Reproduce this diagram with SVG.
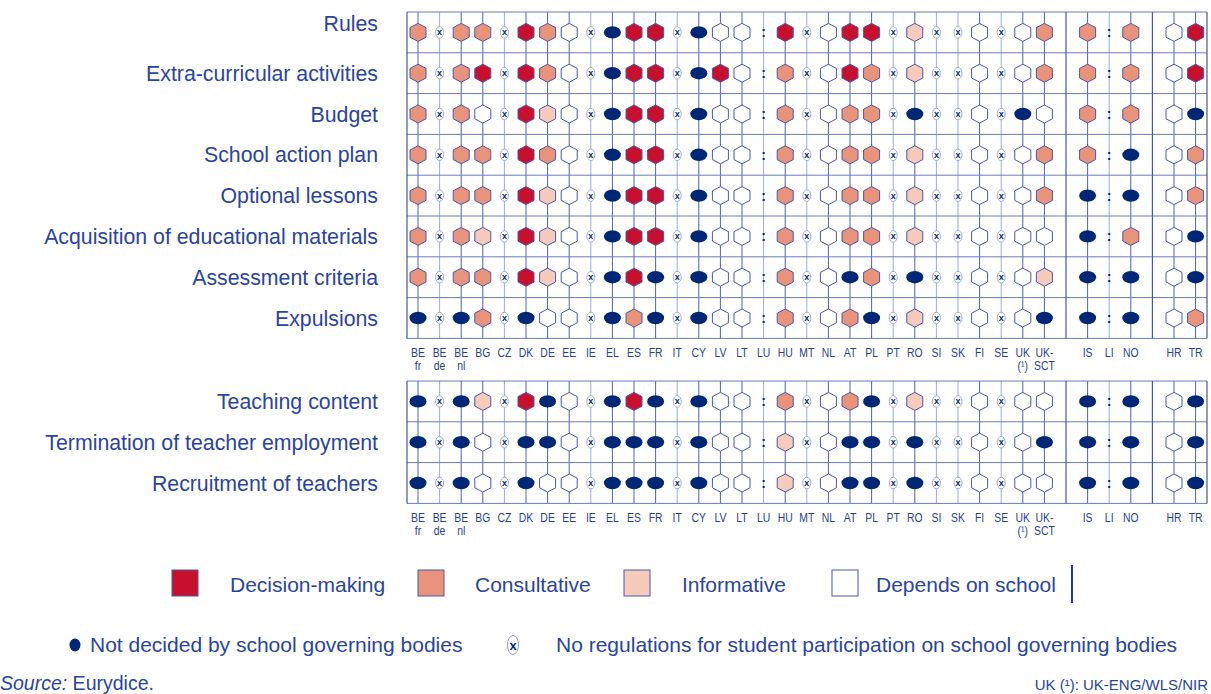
<svg xmlns="http://www.w3.org/2000/svg" xmlns:xlink="http://www.w3.org/1999/xlink" width="1211" height="694" viewBox="0 0 1211 694">
<style>
.lbl{font-family:"Liberation Sans",Arial,sans-serif;font-size:21.3px;fill:#2a45a0;text-anchor:end}
.leg{font-family:"Liberation Sans",Arial,sans-serif;font-size:21px;fill:#2a45a0}
.code{font-family:"Liberation Sans",Arial,sans-serif;font-size:13px;fill:#2a3f95;text-anchor:middle}
.src{font-family:"Liberation Sans",Arial,sans-serif;font-size:19.5px;fill:#2a45a0}
.note{font-family:"Liberation Sans",Arial,sans-serif;font-size:15px;fill:#2a45a0;text-anchor:end}
.hl{stroke:#6d7abd;stroke-width:1;fill:none}
.bd{stroke:#4a57a8;stroke-width:1.2;fill:none}
.vd{stroke:#5362ae;stroke-width:1;fill:none}
.vl{stroke:#a3abd9;stroke-width:1;fill:none}
.hex{stroke:#4b58a8;stroke-width:1}
</style>
<defs>
<polygon id="hx" points="0,-9 8,-4.8 8,4.8 0,9 -8,4.8 -8,-4.8"/>
<g id="D"><use href="#hx" class="hex" fill="#c8102e"/></g>
<g id="C"><use href="#hx" class="hex" fill="#e9937b"/></g>
<g id="I"><use href="#hx" class="hex" fill="#f6cbbb"/></g>
<g id="W"><use href="#hx" class="hex" fill="#ffffff"/></g>
<g id="N"><ellipse rx="8.5" ry="6.2" fill="#002776"/></g>
<g id="X"><ellipse rx="4" ry="5.8" fill="#ffffff" stroke="#8e98cf" stroke-width="0.8"/><text y="3" font-family="Liberation Sans,Arial,sans-serif" font-size="9" font-weight="bold" fill="#002776" text-anchor="middle">x</text></g>
<g id="L"><text y="5" font-family="Liberation Sans,Arial,sans-serif" font-size="14" font-weight="bold" fill="#002776" text-anchor="middle">:</text></g>
</defs>
<rect width="1211" height="694" fill="#ffffff"/>

<g id="connectors">
<path class="vl" d="M439.6 12V338.4M504.4 12V338.4M590.8 12V338.4M677.2 12V338.4M763.6 12V338.4M806.8 12V338.4M893.2 12V338.4M936.4 12V338.4M958 12V338.4M1001.2 12V338.4M1109.2 12V338.4M439.6 381V503.4M504.4 381V503.4M590.8 381V503.4M677.2 381V503.4M763.6 381V503.4M806.8 381V503.4M893.2 381V503.4M936.4 381V503.4M958 381V503.4M1001.2 381V503.4M1109.2 381V503.4"/>
<path class="vd" d="M418 12V338.4M461.2 12V338.4M482.8 12V338.4M526 12V338.4M547.6 12V338.4M569.2 12V338.4M612.4 12V338.4M634 12V338.4M655.6 12V338.4M698.8 12V338.4M720.4 12V338.4M742 12V338.4M785.2 12V338.4M828.4 12V338.4M850 12V338.4M871.6 12V338.4M914.8 12V338.4M979.6 12V338.4M1022.8 12V338.4M1044.4 12V338.4M1087.6 12V338.4M1130.8 12V338.4M1174 12V338.4M1195.6 12V338.4M418 381V503.4M461.2 381V503.4M482.8 381V503.4M526 381V503.4M547.6 381V503.4M569.2 381V503.4M612.4 381V503.4M634 381V503.4M655.6 381V503.4M698.8 381V503.4M720.4 381V503.4M742 381V503.4M785.2 381V503.4M828.4 381V503.4M850 381V503.4M871.6 381V503.4M914.8 381V503.4M979.6 381V503.4M1022.8 381V503.4M1044.4 381V503.4M1087.6 381V503.4M1130.8 381V503.4M1174 381V503.4M1195.6 381V503.4"/>
<path class="hl" d="M407 12H1207M407 52.8H1207M407 93.6H1207M407 134.4H1207M407 175.2H1207M407 216H1207M407 256.8H1207M407 297.6H1207M407 338.4H1207M407 381H1207M407 421.8H1207M407 462.6H1207M407 503.4H1207"/>
<path class="bd" d="M407 12V338.4M1066 12V338.4M1152.4 12V338.4M1207 12V338.4M407 381V503.4M1066 381V503.4M1152.4 381V503.4M1207 381V503.4"/>
</g>

<g id="row-labels">
<text class="lbl" x="378" y="30.5">Rules</text>
<text class="lbl" x="378" y="80.7">Extra-curricular activities</text>
<text class="lbl" x="378" y="121.5">Budget</text>
<text class="lbl" x="378" y="162.3">School action plan</text>
<text class="lbl" x="378" y="203.1">Optional lessons</text>
<text class="lbl" x="378" y="243.9">Acquisition of educational materials</text>
<text class="lbl" x="378" y="284.7">Assessment criteria</text>
<text class="lbl" x="378" y="325.5">Expulsions</text>
<text class="lbl" x="378" y="408.9">Teaching content</text>
<text class="lbl" x="378" y="449.7">Termination of teacher employment</text>
<text class="lbl" x="378" y="490.5">Recruitment of teachers</text>
</g>

<g id="row-rules" transform="translate(0 32.4)"><use href="#C" x="418"/><use href="#X" x="439.6"/><use href="#C" x="461.2"/><use href="#C" x="482.8"/><use href="#X" x="504.4"/><use href="#D" x="526"/><use href="#C" x="547.6"/><use href="#W" x="569.2"/><use href="#X" x="590.8"/><use href="#N" x="612.4"/><use href="#D" x="634"/><use href="#D" x="655.6"/><use href="#X" x="677.2"/><use href="#N" x="698.8"/><use href="#W" x="720.4"/><use href="#W" x="742"/><use href="#L" x="763.6"/><use href="#D" x="785.2"/><use href="#X" x="806.8"/><use href="#W" x="828.4"/><use href="#D" x="850"/><use href="#D" x="871.6"/><use href="#X" x="893.2"/><use href="#I" x="914.8"/><use href="#X" x="936.4"/><use href="#X" x="958"/><use href="#W" x="979.6"/><use href="#X" x="1001.2"/><use href="#W" x="1022.8"/><use href="#C" x="1044.4"/><use href="#C" x="1087.6"/><use href="#L" x="1109.2"/><use href="#C" x="1130.8"/><use href="#W" x="1174"/><use href="#D" x="1195.6"/></g>

<g id="row-extra" transform="translate(0 73.2)"><use href="#C" x="418"/><use href="#X" x="439.6"/><use href="#C" x="461.2"/><use href="#D" x="482.8"/><use href="#X" x="504.4"/><use href="#D" x="526"/><use href="#C" x="547.6"/><use href="#W" x="569.2"/><use href="#X" x="590.8"/><use href="#N" x="612.4"/><use href="#D" x="634"/><use href="#D" x="655.6"/><use href="#X" x="677.2"/><use href="#N" x="698.8"/><use href="#D" x="720.4"/><use href="#W" x="742"/><use href="#L" x="763.6"/><use href="#C" x="785.2"/><use href="#X" x="806.8"/><use href="#W" x="828.4"/><use href="#D" x="850"/><use href="#C" x="871.6"/><use href="#X" x="893.2"/><use href="#I" x="914.8"/><use href="#X" x="936.4"/><use href="#X" x="958"/><use href="#W" x="979.6"/><use href="#X" x="1001.2"/><use href="#W" x="1022.8"/><use href="#C" x="1044.4"/><use href="#C" x="1087.6"/><use href="#L" x="1109.2"/><use href="#C" x="1130.8"/><use href="#W" x="1174"/><use href="#D" x="1195.6"/></g>

<g id="row-budget" transform="translate(0 114)"><use href="#C" x="418"/><use href="#X" x="439.6"/><use href="#C" x="461.2"/><use href="#W" x="482.8"/><use href="#X" x="504.4"/><use href="#D" x="526"/><use href="#I" x="547.6"/><use href="#W" x="569.2"/><use href="#X" x="590.8"/><use href="#N" x="612.4"/><use href="#D" x="634"/><use href="#D" x="655.6"/><use href="#X" x="677.2"/><use href="#N" x="698.8"/><use href="#W" x="720.4"/><use href="#W" x="742"/><use href="#L" x="763.6"/><use href="#C" x="785.2"/><use href="#X" x="806.8"/><use href="#W" x="828.4"/><use href="#C" x="850"/><use href="#C" x="871.6"/><use href="#X" x="893.2"/><use href="#N" x="914.8"/><use href="#X" x="936.4"/><use href="#X" x="958"/><use href="#W" x="979.6"/><use href="#X" x="1001.2"/><use href="#N" x="1022.8"/><use href="#W" x="1044.4"/><use href="#C" x="1087.6"/><use href="#L" x="1109.2"/><use href="#C" x="1130.8"/><use href="#W" x="1174"/><use href="#N" x="1195.6"/></g>

<g id="row-action-plan" transform="translate(0 154.8)"><use href="#C" x="418"/><use href="#X" x="439.6"/><use href="#C" x="461.2"/><use href="#C" x="482.8"/><use href="#X" x="504.4"/><use href="#D" x="526"/><use href="#C" x="547.6"/><use href="#W" x="569.2"/><use href="#X" x="590.8"/><use href="#N" x="612.4"/><use href="#D" x="634"/><use href="#D" x="655.6"/><use href="#X" x="677.2"/><use href="#N" x="698.8"/><use href="#W" x="720.4"/><use href="#W" x="742"/><use href="#L" x="763.6"/><use href="#C" x="785.2"/><use href="#X" x="806.8"/><use href="#W" x="828.4"/><use href="#C" x="850"/><use href="#C" x="871.6"/><use href="#X" x="893.2"/><use href="#I" x="914.8"/><use href="#X" x="936.4"/><use href="#X" x="958"/><use href="#W" x="979.6"/><use href="#X" x="1001.2"/><use href="#W" x="1022.8"/><use href="#C" x="1044.4"/><use href="#C" x="1087.6"/><use href="#L" x="1109.2"/><use href="#N" x="1130.8"/><use href="#W" x="1174"/><use href="#C" x="1195.6"/></g>

<g id="row-optional" transform="translate(0 195.6)"><use href="#C" x="418"/><use href="#X" x="439.6"/><use href="#C" x="461.2"/><use href="#C" x="482.8"/><use href="#X" x="504.4"/><use href="#D" x="526"/><use href="#I" x="547.6"/><use href="#W" x="569.2"/><use href="#X" x="590.8"/><use href="#N" x="612.4"/><use href="#D" x="634"/><use href="#D" x="655.6"/><use href="#X" x="677.2"/><use href="#N" x="698.8"/><use href="#W" x="720.4"/><use href="#W" x="742"/><use href="#L" x="763.6"/><use href="#C" x="785.2"/><use href="#X" x="806.8"/><use href="#W" x="828.4"/><use href="#C" x="850"/><use href="#C" x="871.6"/><use href="#X" x="893.2"/><use href="#I" x="914.8"/><use href="#X" x="936.4"/><use href="#X" x="958"/><use href="#W" x="979.6"/><use href="#X" x="1001.2"/><use href="#W" x="1022.8"/><use href="#C" x="1044.4"/><use href="#N" x="1087.6"/><use href="#L" x="1109.2"/><use href="#N" x="1130.8"/><use href="#W" x="1174"/><use href="#C" x="1195.6"/></g>

<g id="row-acquisition" transform="translate(0 236.4)"><use href="#C" x="418"/><use href="#X" x="439.6"/><use href="#C" x="461.2"/><use href="#I" x="482.8"/><use href="#X" x="504.4"/><use href="#D" x="526"/><use href="#I" x="547.6"/><use href="#W" x="569.2"/><use href="#X" x="590.8"/><use href="#N" x="612.4"/><use href="#D" x="634"/><use href="#D" x="655.6"/><use href="#X" x="677.2"/><use href="#N" x="698.8"/><use href="#W" x="720.4"/><use href="#W" x="742"/><use href="#L" x="763.6"/><use href="#C" x="785.2"/><use href="#X" x="806.8"/><use href="#W" x="828.4"/><use href="#C" x="850"/><use href="#C" x="871.6"/><use href="#X" x="893.2"/><use href="#I" x="914.8"/><use href="#X" x="936.4"/><use href="#X" x="958"/><use href="#W" x="979.6"/><use href="#X" x="1001.2"/><use href="#W" x="1022.8"/><use href="#W" x="1044.4"/><use href="#N" x="1087.6"/><use href="#L" x="1109.2"/><use href="#C" x="1130.8"/><use href="#W" x="1174"/><use href="#N" x="1195.6"/></g>

<g id="row-assessment" transform="translate(0 277.2)"><use href="#C" x="418"/><use href="#X" x="439.6"/><use href="#C" x="461.2"/><use href="#C" x="482.8"/><use href="#X" x="504.4"/><use href="#D" x="526"/><use href="#I" x="547.6"/><use href="#W" x="569.2"/><use href="#X" x="590.8"/><use href="#N" x="612.4"/><use href="#D" x="634"/><use href="#N" x="655.6"/><use href="#X" x="677.2"/><use href="#N" x="698.8"/><use href="#W" x="720.4"/><use href="#W" x="742"/><use href="#L" x="763.6"/><use href="#C" x="785.2"/><use href="#X" x="806.8"/><use href="#W" x="828.4"/><use href="#N" x="850"/><use href="#C" x="871.6"/><use href="#X" x="893.2"/><use href="#N" x="914.8"/><use href="#X" x="936.4"/><use href="#X" x="958"/><use href="#W" x="979.6"/><use href="#X" x="1001.2"/><use href="#W" x="1022.8"/><use href="#I" x="1044.4"/><use href="#N" x="1087.6"/><use href="#L" x="1109.2"/><use href="#N" x="1130.8"/><use href="#W" x="1174"/><use href="#N" x="1195.6"/></g>

<g id="row-expulsions" transform="translate(0 318)"><use href="#N" x="418"/><use href="#X" x="439.6"/><use href="#N" x="461.2"/><use href="#C" x="482.8"/><use href="#X" x="504.4"/><use href="#N" x="526"/><use href="#W" x="547.6"/><use href="#W" x="569.2"/><use href="#X" x="590.8"/><use href="#N" x="612.4"/><use href="#C" x="634"/><use href="#N" x="655.6"/><use href="#X" x="677.2"/><use href="#N" x="698.8"/><use href="#W" x="720.4"/><use href="#W" x="742"/><use href="#L" x="763.6"/><use href="#C" x="785.2"/><use href="#X" x="806.8"/><use href="#W" x="828.4"/><use href="#C" x="850"/><use href="#N" x="871.6"/><use href="#X" x="893.2"/><use href="#I" x="914.8"/><use href="#X" x="936.4"/><use href="#X" x="958"/><use href="#W" x="979.6"/><use href="#X" x="1001.2"/><use href="#W" x="1022.8"/><use href="#N" x="1044.4"/><use href="#N" x="1087.6"/><use href="#L" x="1109.2"/><use href="#N" x="1130.8"/><use href="#W" x="1174"/><use href="#C" x="1195.6"/></g>

<g id="row-teaching" transform="translate(0 401.4)"><use href="#N" x="418"/><use href="#X" x="439.6"/><use href="#N" x="461.2"/><use href="#I" x="482.8"/><use href="#X" x="504.4"/><use href="#D" x="526"/><use href="#N" x="547.6"/><use href="#W" x="569.2"/><use href="#X" x="590.8"/><use href="#N" x="612.4"/><use href="#D" x="634"/><use href="#N" x="655.6"/><use href="#X" x="677.2"/><use href="#N" x="698.8"/><use href="#W" x="720.4"/><use href="#W" x="742"/><use href="#L" x="763.6"/><use href="#C" x="785.2"/><use href="#X" x="806.8"/><use href="#W" x="828.4"/><use href="#C" x="850"/><use href="#N" x="871.6"/><use href="#X" x="893.2"/><use href="#I" x="914.8"/><use href="#X" x="936.4"/><use href="#X" x="958"/><use href="#W" x="979.6"/><use href="#X" x="1001.2"/><use href="#W" x="1022.8"/><use href="#W" x="1044.4"/><use href="#N" x="1087.6"/><use href="#L" x="1109.2"/><use href="#N" x="1130.8"/><use href="#W" x="1174"/><use href="#N" x="1195.6"/></g>

<g id="row-termination" transform="translate(0 442.2)"><use href="#N" x="418"/><use href="#X" x="439.6"/><use href="#N" x="461.2"/><use href="#W" x="482.8"/><use href="#X" x="504.4"/><use href="#N" x="526"/><use href="#N" x="547.6"/><use href="#W" x="569.2"/><use href="#X" x="590.8"/><use href="#N" x="612.4"/><use href="#N" x="634"/><use href="#N" x="655.6"/><use href="#X" x="677.2"/><use href="#N" x="698.8"/><use href="#W" x="720.4"/><use href="#W" x="742"/><use href="#L" x="763.6"/><use href="#I" x="785.2"/><use href="#X" x="806.8"/><use href="#W" x="828.4"/><use href="#N" x="850"/><use href="#N" x="871.6"/><use href="#X" x="893.2"/><use href="#N" x="914.8"/><use href="#X" x="936.4"/><use href="#X" x="958"/><use href="#W" x="979.6"/><use href="#X" x="1001.2"/><use href="#W" x="1022.8"/><use href="#N" x="1044.4"/><use href="#N" x="1087.6"/><use href="#L" x="1109.2"/><use href="#N" x="1130.8"/><use href="#W" x="1174"/><use href="#N" x="1195.6"/></g>

<g id="row-recruitment" transform="translate(0 483)"><use href="#N" x="418"/><use href="#X" x="439.6"/><use href="#N" x="461.2"/><use href="#W" x="482.8"/><use href="#X" x="504.4"/><use href="#N" x="526"/><use href="#W" x="547.6"/><use href="#W" x="569.2"/><use href="#X" x="590.8"/><use href="#N" x="612.4"/><use href="#N" x="634"/><use href="#N" x="655.6"/><use href="#X" x="677.2"/><use href="#N" x="698.8"/><use href="#W" x="720.4"/><use href="#W" x="742"/><use href="#L" x="763.6"/><use href="#I" x="785.2"/><use href="#X" x="806.8"/><use href="#W" x="828.4"/><use href="#N" x="850"/><use href="#N" x="871.6"/><use href="#X" x="893.2"/><use href="#N" x="914.8"/><use href="#X" x="936.4"/><use href="#X" x="958"/><use href="#W" x="979.6"/><use href="#X" x="1001.2"/><use href="#W" x="1022.8"/><use href="#W" x="1044.4"/><use href="#N" x="1087.6"/><use href="#L" x="1109.2"/><use href="#N" x="1130.8"/><use href="#W" x="1174"/><use href="#N" x="1195.6"/></g>

<g id="codes-top" transform="scale(0.8 1)">
<text class="code" x="522.5" y="357">BE</text><text class="code" x="522.5" y="370">fr</text>
<text class="code" x="549.5" y="357">BE</text><text class="code" x="549.5" y="370">de</text>
<text class="code" x="576.5" y="357">BE</text><text class="code" x="576.5" y="370">nl</text>
<text class="code" x="603.5" y="357">BG</text>
<text class="code" x="630.5" y="357">CZ</text>
<text class="code" x="657.5" y="357">DK</text>
<text class="code" x="684.5" y="357">DE</text>
<text class="code" x="711.5" y="357">EE</text>
<text class="code" x="738.5" y="357">IE</text>
<text class="code" x="765.5" y="357">EL</text>
<text class="code" x="792.5" y="357">ES</text>
<text class="code" x="819.5" y="357">FR</text>
<text class="code" x="846.5" y="357">IT</text>
<text class="code" x="873.5" y="357">CY</text>
<text class="code" x="900.5" y="357">LV</text>
<text class="code" x="927.5" y="357">LT</text>
<text class="code" x="954.5" y="357">LU</text>
<text class="code" x="981.5" y="357">HU</text>
<text class="code" x="1008.5" y="357">MT</text>
<text class="code" x="1035.5" y="357">NL</text>
<text class="code" x="1062.5" y="357">AT</text>
<text class="code" x="1089.5" y="357">PL</text>
<text class="code" x="1116.5" y="357">PT</text>
<text class="code" x="1143.5" y="357">RO</text>
<text class="code" x="1170.5" y="357">SI</text>
<text class="code" x="1197.5" y="357">SK</text>
<text class="code" x="1224.5" y="357">FI</text>
<text class="code" x="1251.5" y="357">SE</text>
<text class="code" x="1278.5" y="357">UK</text><text class="code" x="1278.5" y="370">(¹)</text>
<text class="code" x="1305.5" y="357">UK-</text><text class="code" x="1305.5" y="370">SCT</text>
<text class="code" x="1359.5" y="357">IS</text>
<text class="code" x="1386.5" y="357">LI</text>
<text class="code" x="1413.5" y="357">NO</text>
<text class="code" x="1467.5" y="357">HR</text>
<text class="code" x="1494.5" y="357">TR</text>
</g>

<g id="codes-bottom" transform="scale(0.8 1)">
<text class="code" x="522.5" y="522">BE</text><text class="code" x="522.5" y="535">fr</text>
<text class="code" x="549.5" y="522">BE</text><text class="code" x="549.5" y="535">de</text>
<text class="code" x="576.5" y="522">BE</text><text class="code" x="576.5" y="535">nl</text>
<text class="code" x="603.5" y="522">BG</text>
<text class="code" x="630.5" y="522">CZ</text>
<text class="code" x="657.5" y="522">DK</text>
<text class="code" x="684.5" y="522">DE</text>
<text class="code" x="711.5" y="522">EE</text>
<text class="code" x="738.5" y="522">IE</text>
<text class="code" x="765.5" y="522">EL</text>
<text class="code" x="792.5" y="522">ES</text>
<text class="code" x="819.5" y="522">FR</text>
<text class="code" x="846.5" y="522">IT</text>
<text class="code" x="873.5" y="522">CY</text>
<text class="code" x="900.5" y="522">LV</text>
<text class="code" x="927.5" y="522">LT</text>
<text class="code" x="954.5" y="522">LU</text>
<text class="code" x="981.5" y="522">HU</text>
<text class="code" x="1008.5" y="522">MT</text>
<text class="code" x="1035.5" y="522">NL</text>
<text class="code" x="1062.5" y="522">AT</text>
<text class="code" x="1089.5" y="522">PL</text>
<text class="code" x="1116.5" y="522">PT</text>
<text class="code" x="1143.5" y="522">RO</text>
<text class="code" x="1170.5" y="522">SI</text>
<text class="code" x="1197.5" y="522">SK</text>
<text class="code" x="1224.5" y="522">FI</text>
<text class="code" x="1251.5" y="522">SE</text>
<text class="code" x="1278.5" y="522">UK</text><text class="code" x="1278.5" y="535">(¹)</text>
<text class="code" x="1305.5" y="522">UK-</text><text class="code" x="1305.5" y="535">SCT</text>
<text class="code" x="1359.5" y="522">IS</text>
<text class="code" x="1386.5" y="522">LI</text>
<text class="code" x="1413.5" y="522">NO</text>
<text class="code" x="1467.5" y="522">HR</text>
<text class="code" x="1494.5" y="522">TR</text>
</g>

<g id="legend">
<rect x="172" y="570" width="26" height="26" fill="#c8102e" stroke="#4b58a8" stroke-width="1"/>
<text class="leg" x="230" y="591.5">Decision-making</text>
<rect x="418" y="570" width="26" height="26" fill="#e9937b" stroke="#4b58a8" stroke-width="1"/>
<text class="leg" x="475" y="591.5">Consultative</text>
<rect x="624" y="570" width="26" height="26" fill="#f6cbbb" stroke="#4b58a8" stroke-width="1"/>
<text class="leg" x="682" y="591.5">Informative</text>
<rect x="832" y="570" width="26" height="26" fill="#ffffff" stroke="#4b58a8" stroke-width="1"/>
<text class="leg" x="876" y="591.5">Depends on school</text>
<path d="M1072 565V603" stroke="#1f3a93" stroke-width="2"/>
<ellipse cx="75" cy="645" rx="5.5" ry="6.5" fill="#002776"/>
<text class="leg" x="90" y="652">Not decided by school governing bodies</text>
<ellipse cx="513" cy="645" rx="5.5" ry="9.5" fill="#ffffff" stroke="#8e98cf" stroke-width="1"/>
<text x="513" y="650" font-family="Liberation Sans,Arial,sans-serif" font-size="13" font-weight="bold" fill="#002776" text-anchor="middle">x</text>
<text class="leg" x="556" y="652">No regulations for student participation on school governing bodies</text>
</g>

<g id="footer">
<text class="src" x="0" y="690"><tspan font-style="italic">Source:</tspan> Eurydice.</text>
<text class="note" x="1208" y="690">UK (¹): UK-ENG/WLS/NIR</text>
</g>
</svg>
